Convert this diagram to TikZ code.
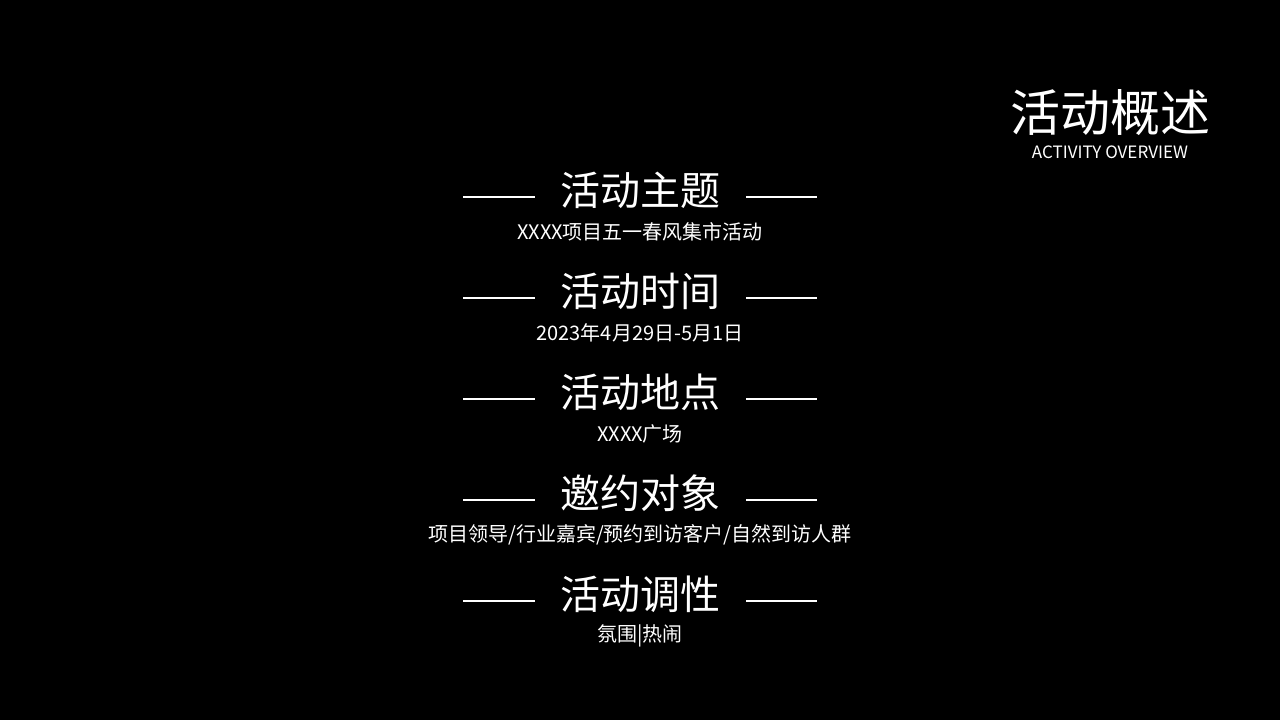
\documentclass[tikz,border=0pt]{standalone}
\usepackage{fontspec}
\newfontfamily\cjk{Noto Sans CJK SC}
\begin{document}
\begin{tikzpicture}[x=1pt,y=-1pt,
  ttl/.style={text=white,font=\cjk\fontsize{40}{44}\selectfont,inner sep=0},
  sub/.style={text=white,font=\cjk\fontsize{20}{22}\selectfont,inner sep=0},
  rule/.style={draw=white,line width=2.5pt}]
\fill[black] (0,0) rectangle (1280,720);
\useasboundingbox (0,0) rectangle (1280,720);
\node[text=white,font=\cjk\fontsize{50}{54}\selectfont,inner sep=0] (head) at (1110,113) {活动概述};
\node[text=white,font=\cjk\fontsize{17}{18}\selectfont,inner sep=0] (headen) at (1110,152) {ACTIVITY OVERVIEW};
\foreach \i/\t/\s in {0/活动主题/{XXXX项目五一春风集市活动},1/活动时间/{2023年4月29日-5月1日},2/活动地点/{XXXX广场},3/邀约对象/{项目领导/行业嘉宾/预约到访客户/自然到访人群},4/活动调性/{氛围|热闹}}{
  \pgfmathsetmacro\yy{190+101*\i}
  \node[ttl] (t\i) at (640,\yy) {\t};
  \node[sub] (s\i) at (640,\yy+42) {\s};
  \coordinate (la\i) at (463,\yy+7);
  \coordinate (lb\i) at (535,\yy+7);
  \coordinate (ra\i) at (746,\yy+7);
  \coordinate (rb\i) at (817,\yy+7);
  \draw[rule] (la\i) -- (lb\i);
  \draw[rule] (ra\i) -- (rb\i);
}
\end{tikzpicture}
\end{document}
